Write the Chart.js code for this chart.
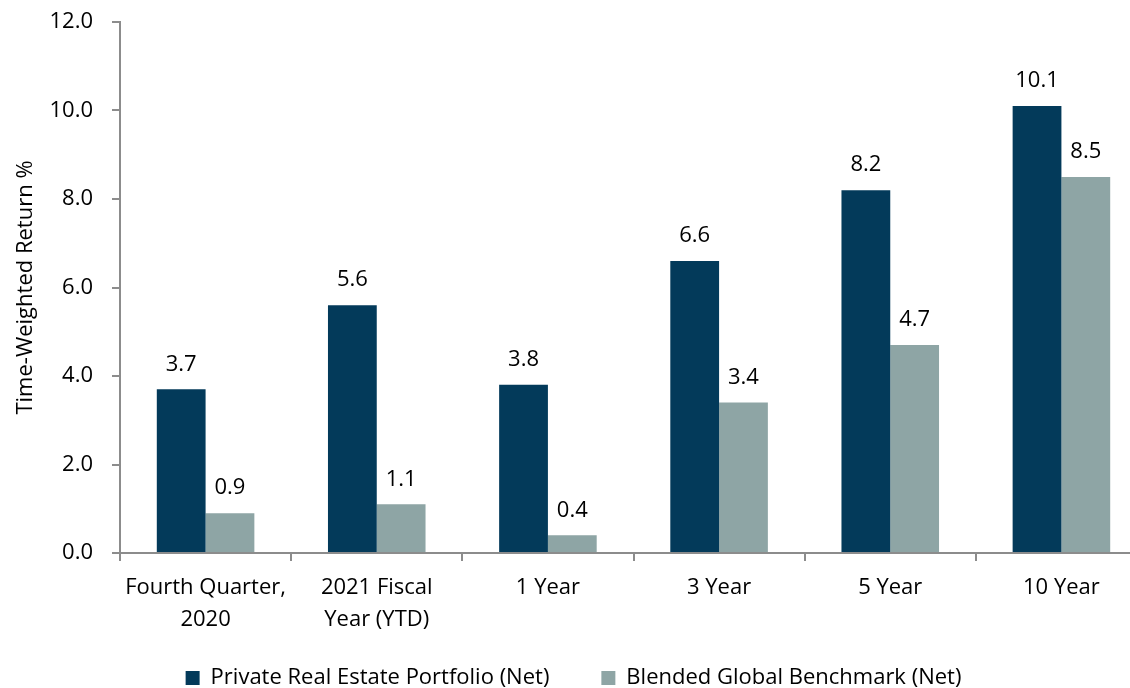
<!DOCTYPE html>
<html>
<head>
<meta charset="utf-8">
<script src="https://cdn.jsdelivr.net/npm/chart.js@4/dist/chart.umd.min.js"></script>
<style>
  html,body{margin:0;padding:0;background:#fff;overflow:hidden}
  #wrap{width:1130px;height:688px;overflow:hidden;position:relative}
  #box{width:1150px;height:688px;position:absolute;left:0;top:0}
</style>
</head>
<body>
<div id="wrap"><div id="box"><canvas id="c"></canvas></div></div>
<script>
// categories and series
var categories = [["Fourth Quarter,", "2020"], ["2021 Fiscal", "Year (YTD)"], "1 Year", "3 Year", "5 Year", "10 Year"];
var portfolio = [3.7, 5.6, 3.8, 6.6, 8.2, 10.1];
var benchmark = [0.9, 1.1, 0.4, 3.4, 4.7, 8.5];
var seriesNames = ["Private Real Estate Portfolio (Net)", "Blended Global Benchmark (Net)"];
var yTitle = "Time-Weighted Return %";

var FONT = "'Open Sans', sans-serif";
var FS = 22;
var navy = "#033a5a";
var sage = "#8ea5a5";

var valueLabels = {
    id: "valueLabels",
    afterDatasetsDraw: function(chart){
        var ctx = chart.ctx
        ctx.save()
        ctx.font = FS + "px " + FONT
        ctx.fillStyle = "#000"
        ctx.textAlign = "center"
        ctx.textBaseline = "middle"
        chart.data.datasets.forEach(function(ds, i){
            chart.getDatasetMeta(i).data.forEach(function(bar, j){
                ctx.fillText(ds.data[j].toFixed(1), bar.x, bar.y - 25)
            })
        })
        ctx.restore()
    }
}

// the legend padding also spaces the items apart; keep the box short in the
// layout, then move it so the row sits at the bottom of the canvas
var legendBox = {
    id: "legendBox",
    beforeLayout: function(chart){
        var lg = chart.legend
        if(!lg || lg._wrapped) return
        var fit = lg.fit
        lg.fit = function(){ fit.call(this); this.height = 51 }
        lg._wrapped = true
    },
    afterLayout: function(chart){
        var lg = chart.legend
        lg.top = chart.height - 73
        lg.bottom = chart.height
        lg.height = 73
    }
}

new Chart(document.getElementById("c"), {
    type: "bar",
    data: {
        labels: categories,
        datasets: [
            {label: seriesNames[0], data: portfolio, backgroundColor: navy, borderWidth: 0},
            {label: seriesNames[1], data: benchmark, backgroundColor: sage, borderWidth: 0}
        ]
    },
    options: {
        responsive: true,
        maintainAspectRatio: false,
        animation: false,
        layout: {padding: {top: 22, right: 3, left: 0, bottom: 0}},
        datasets: {bar: {barPercentage: 1, categoryPercentage: 0.57}},
        plugins: {
            legend: {
                position: "bottom",
                labels: {
                    font: {family: FONT, size: FS},
                    color: "#000",
                    boxWidth: 14,
                    boxHeight: 14,
                    padding: 52
                }
            },
            tooltip: {enabled: false}
        },
        scales: {
            x: {
                afterFit: function(s){ s.height = 84 },
                grid: {display: true, drawOnChartArea: false, tickLength: 8, color: "#8c8c8c", lineWidth: 2},
                border: {color: "#8c8c8c", width: 2},
                ticks: {font: {family: FONT, size: FS, lineHeight: 1.45}, color: "#000", maxRotation: 0, padding: 11}
            },
            y: {
                min: 0, max: 12,
                afterFit: function(s){ s.width = 120; s.paddingTop = 0 },
                grid: {display: true, drawOnChartArea: false, tickLength: 8, color: "#8c8c8c", lineWidth: 2},
                border: {color: "#8c8c8c", width: 2},
                ticks: {stepSize: 2, font: {family: FONT, size: FS}, color: "#000", padding: 19,
                    callback: function(v){ return v.toFixed(1) }},
                title: {display: true, text: yTitle, font: {family: FONT, size: FS}, color: "#000", padding: {top: 13, bottom: 0}}
            }
        }
    },
    plugins: [valueLabels, legendBox]
});
</script>
</body>
</html>
